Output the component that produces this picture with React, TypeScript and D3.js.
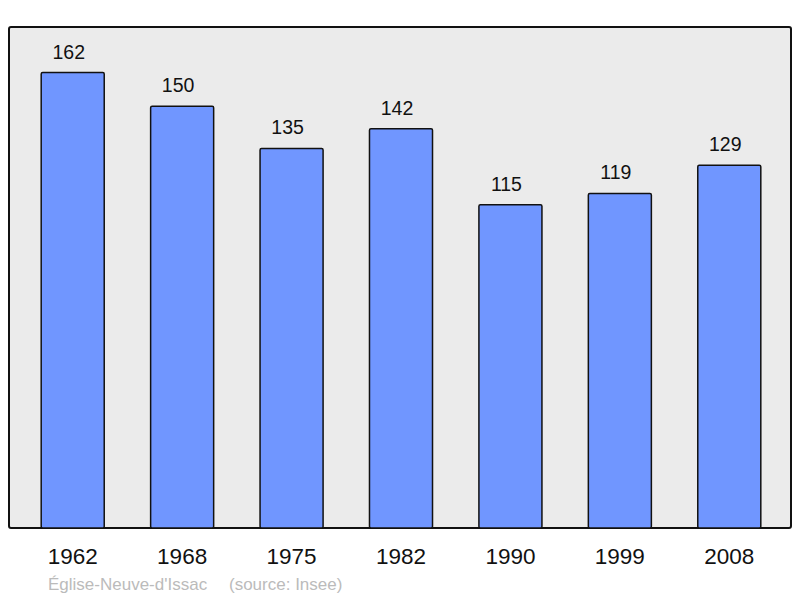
import React from "react";
import * as d3 from "d3";

const years = ["1962", "1968", "1975", "1982", "1990", "1999", "2008"];
const population = [162, 150, 135, 142, 115, 119, 129];
const commune = "Église-Neuve-d'Issac";
const source = "(source: Insee)";

export default function App() {
  const W = 800, H = 598;
  const frame = { x0: 9, y0: 27, x1: 791, y1: 528 };
  const x = d3.scaleBand<string>().domain(years).range([18, 784]).paddingInner(0.424).paddingOuter(0.212);
  const yMax = d3.max(population)! * 1.1;
  const y = d3.scaleLinear().domain([0, yMax]).range([frame.y1, frame.y0]);
  const font = "'Liberation Sans', Arial, sans-serif";
  return (
    <svg width={W} height={H} style={{ position: "absolute", left: 0, top: 0 }}>
      <rect x={0} y={0} width={W} height={H} fill="#ffffff" />
      <rect x={frame.x0} y={frame.y0} width={frame.x1 - frame.x0} height={frame.y1 - frame.y0} rx={2} fill="#ebebeb" stroke="#111" strokeWidth={2} />
      {years.map((yr, i) => {
        const bx = x(yr)!;
        const by = y(population[i]);
        return (
          <g key={yr}>
            <rect x={bx} y={by} width={x.bandwidth()} height={frame.y1 - by} rx={1.5} fill="#7096ff" stroke="#111" strokeWidth={1.5} />
            <text x={bx + x.bandwidth() / 2 - 4} y={by - 14} textAnchor="middle" fontFamily={font} fontSize={19.5} fill="#111">{population[i]}</text>
            <text x={bx + x.bandwidth() / 2} y={564} textAnchor="middle" fontFamily={font} fontSize={22.5} fill="#111">{yr}</text>
          </g>
        );
      })}
      <text x={48} y={590} fontFamily={font} fontSize={17} fill="#bbbbbb">{commune}</text>
      <text x={229} y={590} fontFamily={font} fontSize={17} fill="#bbbbbb">{source}</text>
    </svg>
  );
}
